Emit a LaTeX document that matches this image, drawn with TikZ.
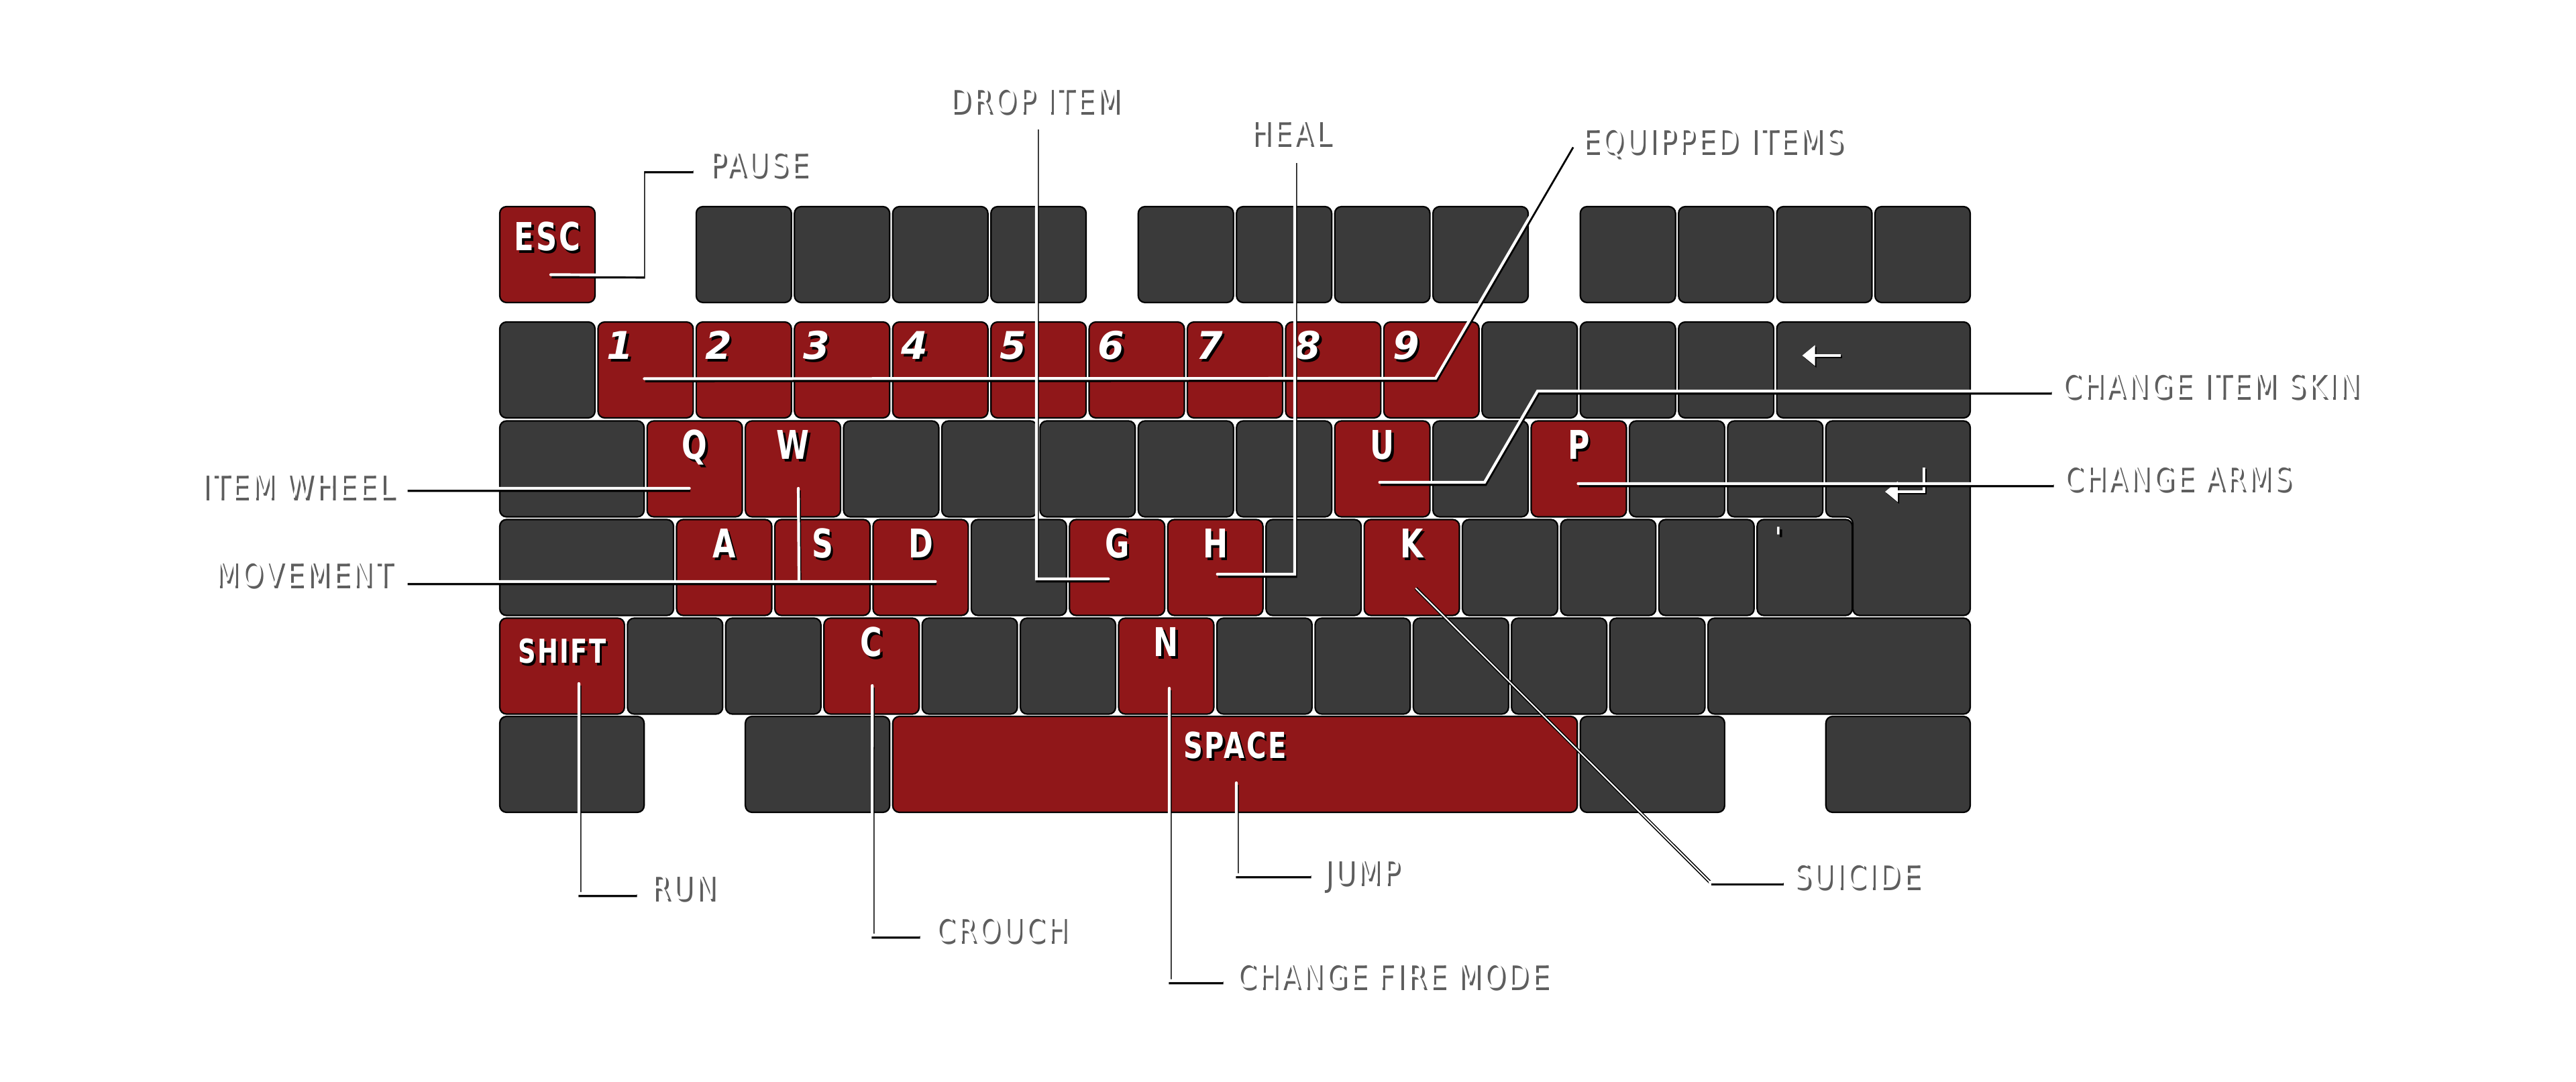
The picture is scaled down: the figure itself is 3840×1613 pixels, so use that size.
\documentclass[tikz,border=0pt]{standalone}
\usepackage{fontspec}
\usetikzlibrary{arrows.meta,calc}
\newfontfamily\lblfont[FakeStretch=0.8,LetterSpace=8]{DejaVu Sans}
\newfontfamily\keyfont[FakeStretch=0.75,LetterSpace=5]{DejaVu Sans}
\newfontfamily\digfont{DejaVu Sans}
\definecolor{keyred}{HTML}{901719}
\definecolor{keydark}{HTML}{3A3A3A}
\definecolor{lblshadow}{HTML}{5E5E5E}
\newcommand\shd[2]{\leavevmode\rlap{\kern0.35mm\raisebox{-0.4mm}{\color{#1}#2}}#2}
\newcommand\mykey[5]{%
  \pgfmathsetmacro\kbx{745+#2*146.43}%
  \pgfmathsetmacro\kbw{(#4*146.43-4.5)/10}%
  \node[#5, minimum width=\kbw mm, anchor=north west] (#1) at (\kbx,#3) {};}
\begin{document}
\begin{tikzpicture}[x=0.1mm,y=-0.1mm,
  keybox/.style={draw=black, line width=0.22mm, rounded corners=1mm},
  keyd/.style={keybox, fill=keydark, rectangle, minimum height=14.3mm, inner sep=0pt, outer sep=0pt},
  keyr/.style={keyd, fill=keyred},
  keylbl/.style={text=white, inner sep=0pt, anchor=base, font=\keyfont\bfseries\fontsize{16.8}{18}\selectfont},
  diglbl/.style={text=white, inner sep=0pt, anchor=base, font=\digfont\bfseries\itshape\fontsize{16.2}{18}\selectfont},
  lbl/.style={text=white, inner sep=0pt, font=\lblfont\fontsize{14.4}{16}\selectfont},
  conn/.style={draw=white, line width=0.42mm, line cap=round, line join=miter,
     preaction={draw=black, line width=0.42mm, transform canvas={xshift=0.15mm, yshift=-0.32mm}}},
  thinconn/.style={draw=white, line width=0.2mm, line cap=round,
     preaction={draw=black, line width=0.5mm}},
  glyph/.style={draw=white, line width=0.4mm,
     preaction={draw=black, line width=0.4mm, transform canvas={xshift=0.2mm, yshift=-0.25mm}}}
]
\useasboundingbox (0,0) rectangle (3840,1613);
\fill[white] (0,0) rectangle (3840,1613);

% ---------- row 1 ----------
\mykey{esc}{0}{308}{1}{keyr}
\mykey{f1}{2}{308}{1}{keyd}
\mykey{f2}{3}{308}{1}{keyd}
\mykey{f3}{4}{308}{1}{keyd}
\mykey{f4}{5}{308}{1}{keyd}
\mykey{f5}{6.5}{308}{1}{keyd}
\mykey{f6}{7.5}{308}{1}{keyd}
\mykey{f7}{8.5}{308}{1}{keyd}
\mykey{f8}{9.5}{308}{1}{keyd}
\mykey{f9}{11}{308}{1}{keyd}
\mykey{f10}{12}{308}{1}{keyd}
\mykey{f11}{13}{308}{1}{keyd}
\mykey{f12}{14}{308}{1}{keyd}
% ---------- row 2 ----------
\mykey{grave}{0}{480}{1}{keyd}
\mykey{n1}{1}{480}{1}{keyr}
\mykey{n2}{2}{480}{1}{keyr}
\mykey{n3}{3}{480}{1}{keyr}
\mykey{n4}{4}{480}{1}{keyr}
\mykey{n5}{5}{480}{1}{keyr}
\mykey{n6}{6}{480}{1}{keyr}
\mykey{n7}{7}{480}{1}{keyr}
\mykey{n8}{8}{480}{1}{keyr}
\mykey{n9}{9}{480}{1}{keyr}
\mykey{n0}{10}{480}{1}{keyd}
\mykey{minus}{11}{480}{1}{keyd}
\mykey{equal}{12}{480}{1}{keyd}
\mykey{bksp}{13}{480}{2}{keyd}
% ---------- row 3 ----------
\mykey{tab}{0}{627.5}{1.5}{keyd}
\mykey{q}{1.5}{627.5}{1}{keyr}
\mykey{w}{2.5}{627.5}{1}{keyr}
\mykey{e}{3.5}{627.5}{1}{keyd}
\mykey{r}{4.5}{627.5}{1}{keyd}
\mykey{t}{5.5}{627.5}{1}{keyd}
\mykey{y}{6.5}{627.5}{1}{keyd}
\mykey{u0}{7.5}{627.5}{1}{keyd}
\mykey{ukey}{8.5}{627.5}{1}{keyr}
\mykey{o}{9.5}{627.5}{1}{keyd}
\mykey{p}{10.5}{627.5}{1}{keyr}
\mykey{lbr}{11.5}{627.5}{1}{keyd}
\mykey{rbr}{12.5}{627.5}{1}{keyd}
\draw[keybox, fill=keydark] (2721.8,627.5) -- (2937,627.5) -- (2937,917.5) -- (2762,917.5) -- (2762,770.5) -- (2721.8,770.5) -- cycle;
% ---------- row 4 ----------
\mykey{caps}{0}{774.5}{1.8}{keyd}
\mykey{a}{1.8}{774.5}{1}{keyr}
\mykey{s}{2.8}{774.5}{1}{keyr}
\mykey{d}{3.8}{774.5}{1}{keyr}
\mykey{f}{4.8}{774.5}{1}{keyd}
\mykey{g}{5.8}{774.5}{1}{keyr}
\mykey{h}{6.8}{774.5}{1}{keyr}
\mykey{j}{7.8}{774.5}{1}{keyd}
\mykey{k}{8.8}{774.5}{1}{keyr}
\mykey{l}{9.8}{774.5}{1}{keyd}
\mykey{semi}{10.8}{774.5}{1}{keyd}
\mykey{semib}{11.8}{774.5}{1}{keyd}
\mykey{quote}{12.8}{774.5}{1}{keyd}
% ---------- row 5 ----------
\mykey{lshift}{0}{921.5}{1.3}{keyr}
\mykey{z}{1.3}{921.5}{1}{keyd}
\mykey{x}{2.3}{921.5}{1}{keyd}
\mykey{c}{3.3}{921.5}{1}{keyr}
\mykey{v}{4.3}{921.5}{1}{keyd}
\mykey{b}{5.3}{921.5}{1}{keyd}
\mykey{n}{6.3}{921.5}{1}{keyr}
\mykey{m}{7.3}{921.5}{1}{keyd}
\mykey{comma}{8.3}{921.5}{1}{keyd}
\mykey{period}{9.3}{921.5}{1}{keyd}
\mykey{slash}{10.3}{921.5}{1}{keyd}
\mykey{extra}{11.3}{921.5}{1}{keyd}
\mykey{rshift}{12.3}{921.5}{2.7}{keyd}
% ---------- row 6 ----------
\mykey{lctrl}{0}{1068}{1.5}{keyd}
\mykey{lalt}{2.5}{1068}{1.5}{keyd}
\mykey{space}{4}{1068}{7}{keyr}
\mykey{ralt}{11}{1068}{1.5}{keyd}
\mykey{rctrl}{13.5}{1068}{1.5}{keyd}

% ---------- key labels ----------
\node[keylbl, font=\keyfont\bfseries\fontsize{16.4}{18}\selectfont] (t-esc) at ($(esc.north)+(0,66)$) {\shd{black}{ESC}};
\foreach \i in {1,...,9}{
  \node[diglbl] (t-n\i) at ($(n\i.north west)+(33,56)$) {\shd{black}{\i}};
}
\node[keylbl] (t-q) at ($(q.north)+(0,57)$) {\shd{black}{Q}};
\node[keylbl] (t-w) at ($(w.north)+(0,57)$) {\shd{black}{W}};
\node[keylbl] (t-u) at ($(ukey.north)+(0,57)$) {\shd{black}{U}};
\node[keylbl] (t-p) at ($(p.north)+(0,57)$) {\shd{black}{P}};
\node[keylbl] (t-a) at ($(a.north)+(0,57)$) {\shd{black}{A}};
\node[keylbl] (t-s) at ($(s.north)+(0,57)$) {\shd{black}{S}};
\node[keylbl] (t-d) at ($(d.north)+(0,57)$) {\shd{black}{D}};
\node[keylbl] (t-g) at ($(g.north)+(0,57)$) {\shd{black}{G}};
\node[keylbl] (t-h) at ($(h.north)+(0,57)$) {\shd{black}{H}};
\node[keylbl] (t-k) at ($(k.north)+(0,57)$) {\shd{black}{K}};
\node[keylbl] (t-c) at ($(c.north)+(0,57)$) {\shd{black}{C}};
\node[keylbl] (t-n) at ($(n.north)+(0,57)$) {\shd{black}{N}};
\node[keylbl, font=\keyfont\bfseries\fontsize{14}{16}\selectfont] (t-shift) at ($(lshift.north)+(0,67)$) {\shd{black}{SHIFT}};
\node[keylbl, font=\keyfont\bfseries\fontsize{15.2}{17}\selectfont] (t-space) at ($(space.north)+(0,62)$) {\shd{black}{SPACE}};
\node[keylbl, font=\digfont\itshape\fontsize{12}{14}\selectfont] (t-quote) at ($(quote.north west)+(32,42)$) {\shd{black}{'}};

% key glyph arrows
\coordinate (bk1) at ($(bksp.north west)+(95,50)$);
\coordinate (bk2) at ($(bksp.north west)+(38,50)$);
\draw[glyph, -{Triangle[length=1.9mm,width=3mm]}] (bk1) -- (bk2);
\coordinate (en1) at (2868,697);
\coordinate (en2) at (2810,733);
\draw[glyph, -{Triangle[length=1.9mm,width=3mm]}] (en1) |- (en2);

% ---------- outside labels ----------
\node[lbl, anchor=base west] (pause) at (1057,263) {\shd{lblshadow}{PAUSE}};
\node[lbl, anchor=base west] (drop) at (1415,168) {\shd{lblshadow}{DROP ITEM}};
\node[lbl, anchor=base west] (heal) at (1864,216) {\shd{lblshadow}{HEAL}};
\node[lbl, anchor=base west] (equip) at (2358,228) {\shd{lblshadow}{EQUIPPED ITEMS}};
\node[lbl, anchor=base west] (skin) at (3073,593) {\shd{lblshadow}{CHANGE ITEM SKIN}};
\node[lbl, anchor=base west] (arms) at (3076,731) {\shd{lblshadow}{CHANGE ARMS}};
\node[lbl, anchor=base east] (wheel) at (588,743) {\shd{lblshadow}{ITEM WHEEL}};
\node[lbl, anchor=base east] (move) at (585,874) {\shd{lblshadow}{MOVEMENT}};
\node[lbl, anchor=base west] (run) at (970,1340) {\shd{lblshadow}{RUN}};
\node[lbl, anchor=base west] (crouch) at (1394,1403) {\shd{lblshadow}{CROUCH}};
\node[lbl, anchor=base west] (jump) at (1973,1317) {\shd{lblshadow}{JUMP}};
\node[lbl, anchor=base west] (fire) at (1843,1472) {\shd{lblshadow}{CHANGE FIRE MODE}};
\node[lbl, anchor=base west] (suicide) at (2673,1323) {\shd{lblshadow}{SUICIDE}};

% ---------- connector end points ----------
\coordinate (s-esc) at ($(esc.center)+(5,30)$);
\coordinate (e-pause) at (1032,253);
\coordinate (s-n1) at ($(n1.center)+(-2,13)$);
\coordinate (e-equip) at (2343,216);
\coordinate (s-g) at ($(g.center)+(-13,17)$);
\coordinate (e-drop) at (1545,190);
\coordinate (s-h) at ($(h.center)+(3,10)$);
\coordinate (e-heal) at (1930,240);
\coordinate (s-u) at ($(ukey.center)+(-4,20)$);
\coordinate (e-skin) at (3057,583);
\coordinate (s-p) at ($(p.center)+(-1,22)$);
\coordinate (e-arms) at (3060,721);
\coordinate (s-q) at ($(q.center)+(-8,29)$);
\coordinate (e-wheel) at (606,728);
\coordinate (s-d) at ($(d.center)+(22,21)$);
\coordinate (e-move) at (606,867);
\coordinate (s-w) at ($(w.center)+(8,29)$);
\coordinate (s-shift) at ($(lshift.center)+(25,26)$);
\coordinate (e-run) at (948,1332);
\coordinate (s-c) at ($(c.center)+(1,29)$);
\coordinate (e-crouch) at (1370,1394);
\coordinate (s-n) at ($(n.center)+(4.5,33)$);
\coordinate (e-fire) at (1822,1462);
\coordinate (s-space) at ($(space.center)+(2,27.5)$);
\coordinate (e-jump) at (1953,1304);
\coordinate (s-k) at ($(k.center)+(6,31)$);
\coordinate (e-suicide) at (2657,1315);

% ---------- connectors ----------
\draw[conn] (s-esc) -- (958,410) -- (958,253) -- (e-pause);
\draw[conn] (s-n1) -- (2140,564) -- (e-equip);
\draw[conn] (s-g) -- (1545,863) -- (e-drop);
\draw[conn] (s-h) -- (1930,856) -- (e-heal);
\draw[conn] (s-u) -- (2213,719) -- (2292,583) -- (e-skin);
\draw[conn] (s-p) -- (e-arms);
\draw[conn] (s-q) -- (e-wheel);
\draw[conn] (s-w) -- (1191,867);
\draw[conn] (s-d) -- (e-move);
\draw[conn] (s-shift) -- (863,1332) -- (e-run);
\draw[conn] (s-c) -- (1300,1394) -- (e-crouch);
\draw[conn] (s-n) -- (1743,1462) -- (e-fire);
\draw[conn] (s-space) -- (1843,1304) -- (e-jump);
\draw[thinconn] (s-k) -- (2549,1315);
\draw[conn] (2549,1315) -- (e-suicide);
\end{tikzpicture}
\end{document}
